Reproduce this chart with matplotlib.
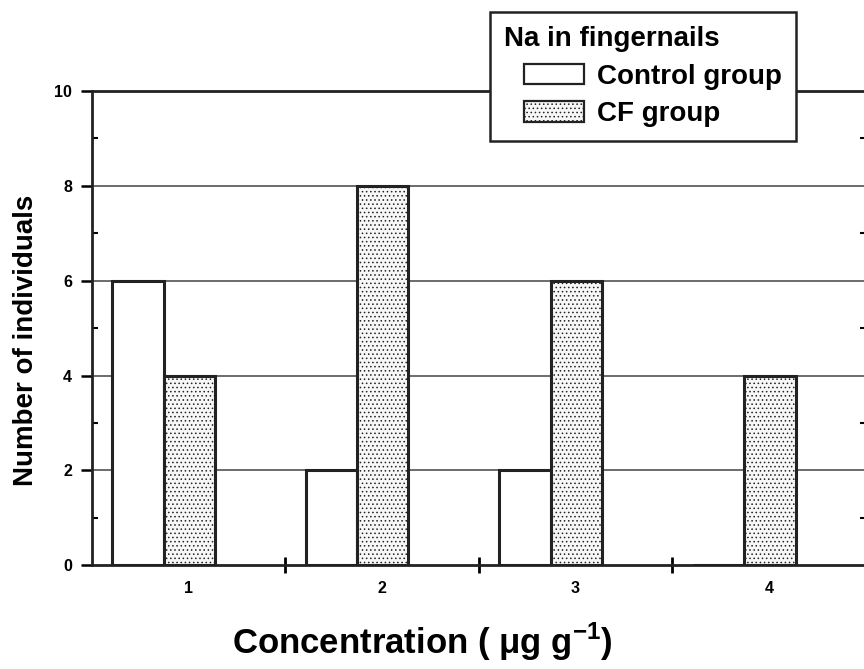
import numpy as np
import matplotlib.pyplot as plt
from matplotlib.ticker import FixedLocator
from matplotlib.patches import Rectangle
from matplotlib.container import BarContainer
from matplotlib.legend_handler import HandlerPatch, update_from_first_child

plt.rcParams['font.family'] = ['Liberation Sans', 'DejaVu Sans']
plt.rcParams['font.weight'] = 'bold'
plt.rcParams['mathtext.fontset'] = 'custom'
plt.rcParams['mathtext.bf'] = 'Liberation Sans:bold'
plt.rcParams['hatch.color'] = '#c4c4c4'
plt.rcParams['hatch.linewidth'] = 0.6

############################################

conc = [1, 2, 3, 4]
control = [6, 2, 2, 0]
cf = [4, 8, 6, 4]
yticks = [0, 2, 4, 6, 8, 10]

############################################


def indented_box(legend, orig_handle, xdescent, ydescent, width, height, fontsize):
    # legend swatch shifted right, like in the original figure
    return Rectangle((-xdescent + 0.25*width, -ydescent), 0.75*width, height)


fig = plt.figure(figsize=(8.64, 6.69), dpi=100)
ax = fig.add_axes([0.106, 0.155, 0.896, 0.709])

x = np.array(conc)
w = 0.265
ax.bar(x - 0.26, control, width=w, color='white', edgecolor='#222222',
       linewidth=2.2, label='Control group', zorder=3)
ax.bar(x + 0.005, cf, width=w, color='#f7f7f7', edgecolor='#222222',
       linewidth=2.2, hatch='....', label='CF group', zorder=3)

ax.set_xlim(0.5, 4.5)
ax.set_ylim(0, 10)
ax.set_yticks(yticks)
ax.yaxis.set_minor_locator(FixedLocator([1, 3, 5, 7, 9]))
ax.set_xticks(conc)
ax.xaxis.set_minor_locator(FixedLocator([1.5, 2.5, 3.5]))

for y in yticks[1:-1]:
    ax.axhline(y, color='#444444', linewidth=1.1, zorder=1)

for s in ax.spines.values():
    s.set_linewidth(2.0)
    s.set_color('#222222')

ax.tick_params(axis='y', which='major', direction='out', length=8, width=1.8,
               labelsize=11.5, right=True, pad=6)
ax.tick_params(axis='y', which='minor', direction='in', length=4, width=1.5,
               right=True)
ax.tick_params(axis='x', which='major', length=0, labelsize=11.5, pad=11)
ax.tick_params(axis='x', which='minor', direction='inout', length=12, width=2)
for lab in ax.get_xticklabels() + ax.get_yticklabels():
    lab.set_fontweight('bold')

ax.set_ylabel('Number of individuals', fontsize=20, fontweight='bold')
ax.yaxis.set_label_coords(-0.068, 0.475)
ax.set_xlabel('Concentration ( \u03bcg g$^{\\mathbf{-1}}$)', fontsize=25,
              fontweight='bold')
ax.xaxis.set_label_coords(0.427, -0.117)

leg = ax.legend(title='Na in fingernails', loc='upper left',
                bbox_to_anchor=(0.567, 0.982), bbox_transform=fig.transFigure,
                fontsize=20, title_fontproperties={'size': 20, 'weight': 'bold'},
                alignment='left', fancybox=False, framealpha=1,
                edgecolor='#222222', handlelength=2.9, handleheight=0.75,
                borderpad=0.5, labelspacing=0.42, handletextpad=0.45,
                borderaxespad=0,
                handler_map={BarContainer: HandlerPatch(
                    patch_func=indented_box,
                    update_func=update_from_first_child)})
leg.get_frame().set_linewidth(1.8)
for p in leg.get_patches():
    p.set_linewidth(1.6)

fig.savefig('out.png', dpi=100)
